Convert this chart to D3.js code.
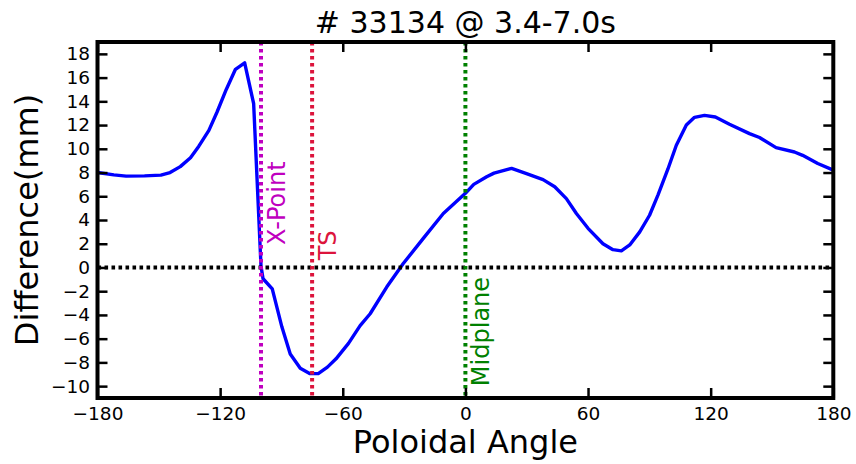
<!DOCTYPE html>
<html>
<head>
<meta charset="utf-8">
<script src="https://cdn.jsdelivr.net/npm/d3@7"></script>
<style>
  body { margin: 0; background: #fff; }
  svg { display: block; font-family: "DejaVu Sans", sans-serif; }
</style>
</head>
<body>
<svg id="chart" width="856" height="464"></svg>
<script>
// Poloidal angle (deg) and measured difference (mm)
const angles = [-180, -172, -166, -157, -149, -144.5, -139.5, -134.5, -130.5, -125.5,
  -121.5, -117, -112.5, -108, -103.6, -100, -99, -94.5, -89.8, -85.7,
  -80.8, -76, -72, -67.5, -63.3, -57.2, -51.5, -46.6, -38.5, -30.4,
  -20.6, -10.8, 0, 4.1, 10.4, 14, 22.6, 29.9, 38, 43.7,
  49.4, 54.3, 60, 67.3, 72.2, 76.3, 80.4, 85.3, 90.1, 94.2,
  99.1, 103.2, 108.1, 112.1, 117, 122.3, 129.2, 139, 143.9, 152,
  161, 165, 172.4, 180];
const difference = [8.0, 7.8, 7.7, 7.72, 7.78, 8.0, 8.5, 9.25, 10.2, 11.55,
  13.1, 15.0, 16.7, 17.25, 13.8, 0.1, -0.95, -1.8, -5.0, -7.3,
  -8.5, -8.95, -8.95, -8.4, -7.7, -6.4, -4.9, -3.9, -1.65, 0.33,
  2.45, 4.55, 6.25, 7.0, 7.65, 7.95, 8.35, 7.9, 7.4, 6.8,
  5.8, 4.55, 3.3, 2.0, 1.5, 1.4, 1.9, 3.0, 4.4, 6.1,
  8.3, 10.3, 12.0, 12.65, 12.82, 12.68, 12.07, 11.28, 10.95, 10.1,
  9.73, 9.45, 8.76, 8.2];

const xTicks = [-180, -120, -60, 0, 60, 120, 180];
const yTicks = [-10, -8, -6, -4, -2, 0, 2, 4, 6, 8, 10, 12, 14, 16, 18];

// Reference locations marked with vertical lines
const markerAngles = [-100, -75, 0];
const markerNames = ["X-Point", "TS", "Midplane"];
const markerLabelStart = [1.9, 0.6, -10];   // y value where each rotated label begins
const markerColors = ["#bf00bf", "#dc143c", "#008000"];

const titleText = "# 33134 @ 3.4-7.0s";
const xLabel = "Poloidal Angle";
const yLabel = "Difference(mm)";

const svg = d3.select("#chart");
const L = 97.5, R = 833.3, T = 42, B = 398;

const x = d3.scaleLinear().domain([-180, 180]).range([L, R]);
const y = d3.scaleLinear().domain([-11, 19]).range([B, T]);

svg.append("defs").append("clipPath").attr("id", "plotclip")
  .append("rect").attr("x", L).attr("y", T).attr("width", R - L).attr("height", B - T);

const plot = svg.append("g").attr("clip-path", "url(#plotclip)");

// data curve
const pts = angles.map((a, i) => [a, difference[i]]);
plot.append("path")
  .datum(pts)
  .attr("d", d3.line().x(d => x(d[0])).y(d => y(d[1])))
  .attr("fill", "none")
  .attr("stroke", "#0000ff")
  .attr("stroke-width", 3.4)
  .attr("stroke-linejoin", "round");

// zero line
plot.append("line")
  .attr("x1", x(-180)).attr("x2", x(180))
  .attr("y1", y(0)).attr("y2", y(0))
  .attr("stroke", "#000")
  .attr("stroke-width", 4)
  .attr("stroke-dasharray", "3.6,3.4");

// vertical marker lines
plot.selectAll("line.marker")
  .data(markerAngles)
  .join("line")
  .attr("class", "marker")
  .attr("x1", d => x(d)).attr("x2", d => x(d))
  .attr("y1", y(19)).attr("y2", y(-11))
  .attr("stroke", (d, i) => markerColors[i])
  .attr("stroke-width", 4)
  .attr("stroke-dasharray", "3.6,3.4");

// marker labels, rotated to read upward
const labelSize = 24;
svg.selectAll("text.marker")
  .data(markerAngles)
  .join("text")
  .attr("class", "marker")
  .attr("transform", (d, i) => `translate(${x(d) + 24},${y(markerLabelStart[i])}) rotate(-90)`)
  .attr("font-size", labelSize)
  .attr("fill", (d, i) => markerColors[i])
  .text((d, i) => markerNames[i]);

// axes with inward ticks on all four sides
const fmt = d3.format("d");
const tickLen = 10;

const gl = svg.append("g").attr("transform", `translate(${L},0)`)
  .call(d3.axisLeft(y).tickValues(yTicks).tickFormat(fmt).tickSize(-tickLen).tickPadding(7.5));
const gr = svg.append("g").attr("transform", `translate(${R},0)`)
  .call(d3.axisRight(y).tickValues(yTicks).tickFormat("").tickSize(-tickLen));
const gb = svg.append("g").attr("transform", `translate(0,${B})`)
  .call(d3.axisBottom(x).tickValues(xTicks).tickFormat(fmt).tickSize(-tickLen).tickPadding(9));
const gt = svg.append("g").attr("transform", `translate(0,${T})`)
  .call(d3.axisTop(x).tickValues(xTicks).tickFormat("").tickSize(-tickLen));

[gl, gr, gb, gt].forEach(g => {
  g.select(".domain").remove();
  g.selectAll(".tick line").attr("stroke", "#000").attr("stroke-width", 2.5);
  g.selectAll(".tick text").attr("font-size", 18.5).attr("fill", "#000")
    .attr("font-family", "DejaVu Sans, sans-serif");
});

// frame
svg.append("rect")
  .attr("x", L).attr("y", T).attr("width", R - L).attr("height", B - T)
  .attr("fill", "none").attr("stroke", "#000").attr("stroke-width", 4);

// title and axis labels
svg.append("text")
  .attr("x", (L + R) / 2).attr("y", 33.3)
  .attr("text-anchor", "middle").attr("font-size", 30)
  .text(titleText);

svg.append("text")
  .attr("x", (L + R) / 2).attr("y", 453)
  .attr("text-anchor", "middle").attr("font-size", 32)
  .text(xLabel);

svg.append("text")
  .attr("transform", `translate(38,${(T + B) / 2}) rotate(-90)`)
  .attr("text-anchor", "middle").attr("font-size", 32)
  .text(yLabel);
</script>
</body>
</html>
